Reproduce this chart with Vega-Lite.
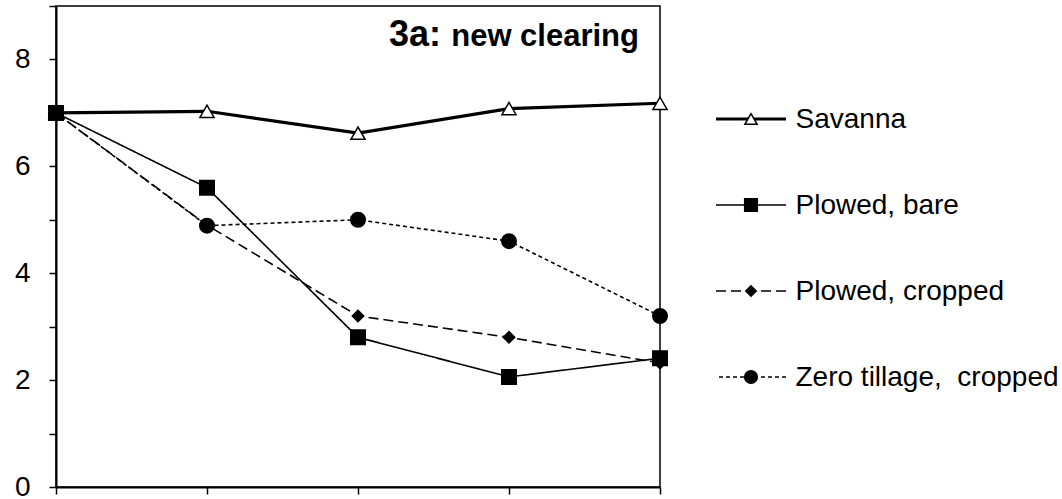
{
  "$schema": "https://vega.github.io/schema/vega-lite/v6.json",
  "padding": {"left": 13, "top": 4, "right": 2, "bottom": 2},
  "background": "white",
  "spacing": 43,
  "config": {
    "view": {"stroke": "black", "strokeWidth": 1.5},
    "axis": {
      "domainColor": "black", "domainWidth": 2, "tickColor": "black", "tickWidth": 1.5,
      "tickSize": 7, "labelColor": "black", "labelFont": "Liberation Sans", "labelFontSize": 28,
      "grid": false, "title": null
    }
  },
  "data": {
    "values": [
      {"series": "Savanna", "t": 0, "v": 7.0},
      {"series": "Savanna", "t": 1, "v": 7.03},
      {"series": "Savanna", "t": 2, "v": 6.62},
      {"series": "Savanna", "t": 3, "v": 7.08},
      {"series": "Savanna", "t": 4, "v": 7.18},
      {"series": "Plowed, cropped", "t": 0, "v": 7.0},
      {"series": "Plowed, cropped", "t": 1, "v": 4.9},
      {"series": "Plowed, cropped", "t": 2, "v": 3.2},
      {"series": "Plowed, cropped", "t": 3, "v": 2.8},
      {"series": "Plowed, cropped", "t": 4, "v": 2.32},
      {"series": "Zero tillage, cropped", "t": 0, "v": 7.0},
      {"series": "Zero tillage, cropped", "t": 1, "v": 4.89},
      {"series": "Zero tillage, cropped", "t": 2, "v": 5.0},
      {"series": "Zero tillage, cropped", "t": 3, "v": 4.6},
      {"series": "Zero tillage, cropped", "t": 4, "v": 3.2},
      {"series": "Plowed, bare", "t": 0, "v": 7.0},
      {"series": "Plowed, bare", "t": 1, "v": 5.6},
      {"series": "Plowed, bare", "t": 2, "v": 2.8},
      {"series": "Plowed, bare", "t": 3, "v": 2.06},
      {"series": "Plowed, bare", "t": 4, "v": 2.41}
    ]
  },
  "hconcat": [
    {
      "width": 604,
      "height": 481,
      "layer": [
        {
          "mark": {"type": "line", "color": "black", "strokeWidth": 1.6},
          "encoding": {
            "x": {
              "field": "t", "type": "quantitative",
              "scale": {"domain": [0, 4], "nice": false, "zero": false},
              "axis": {"values": [0, 1, 2, 3, 4], "labels": false}
            },
            "y": {
              "field": "v", "type": "quantitative",
              "scale": {"domain": [0, 9], "nice": false},
              "axis": {
                "values": [0, 1, 2, 3, 4, 5, 6, 7, 8, 9],
                "format": "d",
                "labelExpr": "datum.value % 2 === 0 ? datum.label : ''",
                "labelPadding": 19
              }
            },
            "strokeDash": {
              "field": "series", "type": "nominal",
              "scale": {
                "domain": ["Savanna", "Plowed, bare", "Plowed, cropped", "Zero tillage, cropped"],
                "range": [[1, 0], [1, 0], [10, 5], [4, 3]]
              },
              "legend": null
            }
          }
        },
        {
          "transform": [{"filter": "datum.series === 'Savanna'"}],
          "mark": {"type": "line", "color": "black", "strokeWidth": 3.2},
          "encoding": {
            "x": {"field": "t", "type": "quantitative"},
            "y": {"field": "v", "type": "quantitative"}
          }
        },
        {
          "mark": {"type": "point", "filled": true, "stroke": "black", "strokeWidth": 1.5, "opacity": 1},
          "encoding": {
            "x": {"field": "t", "type": "quantitative"},
            "y": {"field": "v", "type": "quantitative"},
            "shape": {
              "field": "series", "type": "nominal",
              "scale": {
                "domain": ["Savanna", "Plowed, bare", "Plowed, cropped", "Zero tillage, cropped"],
                "range": ["triangle-up", "square", "diamond", "circle"]
              },
              "legend": null
            },
            "fill": {
              "field": "series", "type": "nominal",
              "scale": {
                "domain": ["Savanna", "Plowed, bare", "Plowed, cropped", "Zero tillage, cropped"],
                "range": ["white", "black", "black", "black"]
              },
              "legend": null
            },
            "size": {
              "condition": [
                {"test": "datum.series === 'Savanna'", "value": 200},
                {"test": "datum.series === 'Plowed, cropped'", "value": 130}
              ],
              "value": 210
            }
          }
        },
        {
          "data": {"values": [{"label": "new clearing"}]},
          "mark": {"type": "text", "align": "right", "baseline": "alphabetic", "dx": -21, "fontSize": 31, "fontWeight": "bold", "font": "Liberation Sans", "color": "black"},
          "encoding": {
            "x": {"datum": 4, "type": "quantitative"},
            "y": {"datum": 8.25, "type": "quantitative"},
            "text": {"field": "label", "type": "nominal"}
          }
        },
        {
          "data": {"values": [{"label": "3a:"}]},
          "mark": {"type": "text", "align": "left", "baseline": "alphabetic", "dx": -271, "fontSize": 36, "fontWeight": "bold", "font": "Liberation Sans", "color": "black"},
          "encoding": {
            "x": {"datum": 4, "type": "quantitative"},
            "y": {"datum": 8.25, "type": "quantitative"},
            "text": {"field": "label", "type": "nominal"}
          }
        }
      ]
    },
    {
      "width": 70,
      "height": 481,
      "view": {"stroke": null},
      "transform": [{"filter": "datum.t === 0"}],
      "encoding": {
        "y": {
          "field": "series", "type": "nominal",
          "scale": {
            "type": "point",
            "domain": ["Savanna", "Plowed, bare", "Plowed, cropped", "Zero tillage, cropped"],
            "range": [113, 371],
            "padding": 0
          },
          "axis": {
            "orient": "right", "domain": false, "ticks": false, "labelPadding": 9,
            "labelFontSize": 28, "labelLimit": 500, "labelBaseline": "middle",
            "labelExpr": "datum.label === 'Zero tillage, cropped' ? 'Zero tillage,\u00a0 cropped' : datum.label"
          }
        }
      },
      "layer": [
        {
          "mark": {"type": "rule", "color": "black"},
          "encoding": {
            "strokeDash": {
              "field": "series", "type": "nominal",
              "scale": {
                "domain": ["Savanna", "Plowed, bare", "Plowed, cropped", "Zero tillage, cropped"],
                "range": [[1, 0], [1, 0], [10, 5], [4, 3]]
              },
              "legend": null
            },
            "strokeWidth": {
              "condition": {"test": "datum.series === 'Savanna'", "value": 3.2},
              "value": 1.6
            }
          }
        },
        {
          "mark": {"type": "point", "filled": true, "stroke": "black", "strokeWidth": 1.5, "opacity": 1},
          "encoding": {
            "shape": {
              "field": "series", "type": "nominal",
              "scale": {
                "domain": ["Savanna", "Plowed, bare", "Plowed, cropped", "Zero tillage, cropped"],
                "range": ["triangle-up", "square", "diamond", "circle"]
              },
              "legend": null
            },
            "fill": {
              "field": "series", "type": "nominal",
              "scale": {
                "domain": ["Savanna", "Plowed, bare", "Plowed, cropped", "Zero tillage, cropped"],
                "range": ["white", "black", "black", "black"]
              },
              "legend": null
            },
            "size": {
              "condition": [
                {"test": "datum.series === 'Savanna'", "value": 150},
                {"test": "datum.series === 'Plowed, cropped'", "value": 110}
              ],
              "value": 160
            }
          }
        }
      ]
    }
  ]
}
